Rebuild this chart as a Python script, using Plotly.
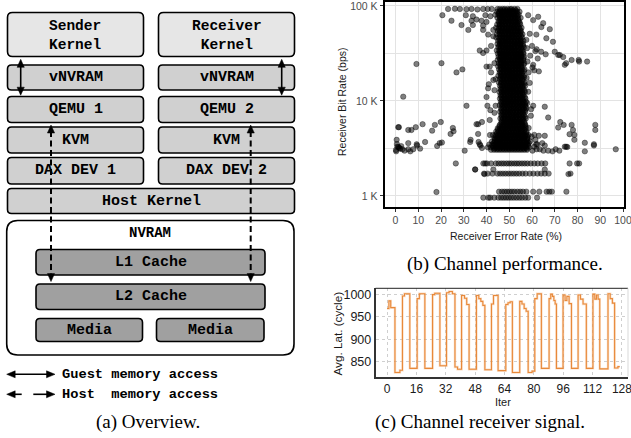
import plotly.graph_objects as go

W, H = 631, 438

# ---------------- (b) Channel performance: receiver error rate vs bit rate ----------------
# dense core, one row of error-rate readings per bit-rate band
blob_bps = [93000, 87000, 81000, 75000, 69000, 64000, 59000, 54500, 50500, 46500,
            43000, 39800, 36800, 34000, 31500, 29200, 27000, 25000, 23200, 21500,
            19900, 18400, 17000, 15700, 14500, 13400, 12400, 11500, 10600, 9800,
            9050, 8350, 7700, 7100, 6550, 6050, 5600, 5150, 4750, 4380,
            4050, 3750, 3480, 3250, 3060, 2200, 1720, 1110, 960]
blob_err = [
    [40.5, 42.3, 44.8, 45.9, 47.1, 48.0, 49.2, 50.3, 51.1, 52.4, 53.6],
    [44.6, 45.7, 46.9, 47.8, 48.9, 50.0, 51.2, 52.1, 53.3, 54.5],
    [43.9, 45.2, 46.4, 47.5, 48.6, 49.7, 50.6, 51.8, 52.9, 54.1],
    [44.8, 45.9, 47.0, 48.2, 49.3, 50.4, 51.5, 52.6, 53.7, 55.0],
    [45.3, 46.4, 47.4, 48.5, 49.6, 50.8, 51.9, 53.0, 54.2],
    [44.7, 45.8, 46.9, 48.0, 49.1, 50.2, 51.3, 52.4, 53.5, 54.8],
    [44.2, 45.4, 46.5, 47.6, 48.7, 49.8, 50.9, 52.0, 53.1, 54.3, 55.4],
    [45.0, 46.1, 47.2, 48.3, 49.4, 50.5, 51.6, 52.7, 53.8, 55.1],
    [44.6, 45.7, 46.8, 47.9, 49.0, 50.1, 51.2, 52.3, 53.4, 54.6, 55.8],
    [44.3, 45.5, 46.6, 47.7, 48.8, 49.9, 51.0, 52.1, 53.2, 54.4, 55.6],
    [45.1, 46.2, 47.3, 48.4, 49.5, 50.6, 51.7, 52.8, 53.9, 55.0, 56.2],
    [44.8, 45.9, 47.0, 48.1, 49.2, 50.3, 51.4, 52.5, 53.6, 54.8, 56.0],
    [45.2, 46.3, 47.4, 48.5, 49.6, 50.7, 51.8, 52.9, 54.0, 55.2, 56.4],
    [44.5, 45.6, 46.7, 47.8, 48.9, 50.0, 51.1, 52.2, 53.3, 54.5, 55.7],
    [45.0, 46.1, 47.2, 48.3, 49.4, 50.5, 51.6, 52.7, 53.8, 55.0, 56.3],
    [45.3, 46.4, 47.5, 48.6, 49.7, 50.8, 51.9, 53.0, 54.1, 55.3, 56.5],
    [44.9, 46.0, 47.1, 48.2, 49.3, 50.4, 51.5, 52.6, 53.7, 54.9, 56.1],
    [45.4, 46.5, 47.6, 48.7, 49.8, 50.9, 52.0, 53.1, 54.2, 55.4, 56.6],
    [45.1, 46.2, 47.3, 48.4, 49.5, 50.6, 51.7, 52.8, 53.9, 55.1],
    [45.5, 46.6, 47.7, 48.8, 49.9, 51.0, 52.1, 53.2, 54.3, 55.5, 56.7],
    [45.8, 46.9, 48.0, 49.1, 50.2, 51.3, 52.4, 53.5, 54.6, 55.8],
    [45.2, 46.3, 47.4, 48.5, 49.6, 50.7, 51.8, 52.9, 54.0, 55.2, 56.4],
    [45.9, 47.0, 48.1, 49.2, 50.3, 51.4, 52.5, 53.6, 54.7, 55.9],
    [45.4, 46.5, 47.6, 48.7, 49.8, 50.9, 52.0, 53.1, 54.2, 55.4, 56.6],
    [45.9, 47.0, 48.1, 49.2, 50.3, 51.4, 52.5, 53.6, 54.7, 55.9, 57.0],
    [46.1, 47.2, 48.3, 49.4, 50.5, 51.6, 52.7, 53.8, 54.9, 56.1],
    [45.7, 46.8, 47.9, 49.0, 50.1, 51.2, 52.3, 53.4, 54.5, 55.7, 56.9],
    [46.2, 47.3, 48.4, 49.5, 50.6, 51.7, 52.8, 53.9, 55.0, 56.2],
    [45.9, 47.0, 48.1, 49.2, 50.3, 51.4, 52.5, 53.6, 54.7, 55.9, 57.1],
    [46.3, 47.4, 48.5, 49.6, 50.7, 51.8, 52.9, 54.0, 55.1, 56.3, 57.4],
    [45.8, 46.9, 48.0, 49.1, 50.2, 51.3, 52.4, 53.5, 54.6, 55.8, 57.0],
    [46.4, 47.5, 48.6, 49.7, 50.8, 51.9, 53.0, 54.1, 55.2, 56.4, 57.5],
    [46.0, 47.1, 48.2, 49.3, 50.4, 51.5, 52.6, 53.7, 54.8, 56.0, 57.1],
    [46.5, 47.6, 48.7, 49.8, 50.9, 52.0, 53.1, 54.2, 55.3, 56.5],
    [46.1, 47.2, 48.3, 49.4, 50.5, 51.6, 52.7, 53.8, 54.9, 56.1, 57.3],
    [46.6, 47.7, 48.8, 49.9, 51.0, 52.1, 53.2, 54.3, 55.4, 56.6],
    [45.8, 46.9, 48.0, 49.1, 50.2, 51.3, 52.4, 53.5, 54.6, 55.8, 57.0],
    [44.9, 46.0, 47.1, 48.2, 49.3, 50.4, 51.5, 52.6, 53.7, 54.8, 56.0, 57.2],
    [44.2, 45.3, 46.4, 47.5, 48.6, 49.7, 50.8, 51.9, 53.0, 54.1, 55.2, 56.4, 57.6],
    [41.5, 42.8, 44.0, 45.1, 46.2, 47.3, 48.4, 49.5, 50.6, 51.7, 52.8, 53.9, 55.0, 56.1, 57.3, 58.4],
    [43.5, 44.6, 45.7, 46.8, 47.9, 49.0, 50.1, 51.2, 52.3, 53.4, 54.5, 55.6, 56.7, 57.9],
    [42.4, 43.6, 44.7, 45.8, 46.9, 48.0, 49.1, 50.2, 51.3, 52.4, 53.5, 54.6, 55.7, 56.8, 58.0, 59.1],
    [41.2, 42.5, 43.7, 44.8, 45.9, 47.0, 48.1, 49.2, 50.3, 51.4, 52.5, 53.6, 54.7, 55.8, 56.9, 58.1],
    [40.6, 41.9, 43.1, 44.3, 45.4, 46.5, 47.6, 48.7, 49.8, 50.9, 52.0, 53.1, 54.2, 55.3, 56.4, 57.5, 58.7],
    [42.0, 43.3, 44.5, 45.6, 46.7, 47.8, 48.9, 50.0, 51.1, 52.2, 53.3, 54.4, 55.5, 56.6, 57.8],
    [38.6, 40.2, 42.0, 44.1, 45.3, 46.5, 47.6, 48.8, 49.9, 51.0, 52.2, 53.3, 54.4, 55.6, 56.8,
     58.0, 59.4, 61.0, 62.5, 64.2, 65.8, 76.5, 80.7],
    [38.9, 40.5, 42.6, 44.8, 46.0, 47.2, 48.4, 49.6, 50.8, 52.0, 53.2, 54.4, 55.8, 57.2, 59.0,
     60.6, 62.4, 64.0, 65.6, 67.3, 76.9],
    [45.5, 46.8, 47.9, 49.0, 50.1, 51.2, 52.3, 53.6, 54.8, 56.0, 57.5, 60.5, 63.2, 66.4, 67.6,
     68.7, 75.1],
    [38.6, 40.8, 41.6, 43.4, 45.2, 46.4, 47.5, 48.6, 49.7, 50.8, 52.0, 53.2, 54.4, 55.6, 57.0,
     58.3, 62.2],
]
# the darkest part of the core, read between the rows above
core_bps = [90000, 84000, 78000, 72000, 66500, 61500, 56700, 52500, 48500, 44700,
            41400, 38300, 35400, 32700, 30300, 28100, 26000, 24100, 22300, 20700,
            19100, 17700, 16300, 15100, 13900, 12900, 11900, 11000, 10200, 9400,
            8700, 8000, 7400, 6800, 6300, 5800, 5370, 4950, 4560, 4210,
            3900, 3610, 3360, 3150]
core_err = [
    [46.2, 47.6, 48.9, 50.1, 51.5, 52.8],
    [45.4, 46.8, 48.1, 49.5, 50.8, 52.0, 53.4],
    [45.8, 47.1, 48.4, 49.8, 51.0, 52.3, 53.6],
    [46.0, 47.3, 48.7, 50.0, 51.3, 52.6, 54.0],
    [45.6, 46.9, 48.3, 49.6, 50.9, 52.2, 53.5, 54.6],
    [45.9, 47.2, 48.5, 49.9, 51.2, 52.5, 53.8],
    [45.5, 46.9, 48.2, 49.5, 50.8, 52.1, 53.4, 54.7],
    [45.8, 47.1, 48.4, 49.7, 51.0, 52.4, 53.7, 55.0],
    [46.1, 47.4, 48.7, 50.0, 51.3, 52.6, 53.9, 55.2],
    [45.7, 47.0, 48.3, 49.6, 51.0, 52.3, 53.6, 54.9],
    [46.0, 47.3, 48.6, 49.9, 51.2, 52.5, 53.8, 55.2],
    [45.6, 46.9, 48.2, 49.5, 50.9, 52.2, 53.5, 54.8, 56.0],
    [46.1, 47.4, 48.7, 50.0, 51.3, 52.6, 53.9, 55.3],
    [45.8, 47.1, 48.4, 49.7, 51.0, 52.3, 53.6, 54.9, 56.1],
    [46.2, 47.5, 48.8, 50.1, 51.4, 52.7, 54.0, 55.3],
    [45.9, 47.2, 48.5, 49.8, 51.1, 52.4, 53.7, 55.0, 56.2],
    [46.3, 47.6, 48.9, 50.2, 51.5, 52.8, 54.1, 55.4],
    [46.0, 47.3, 48.6, 49.9, 51.2, 52.5, 53.8, 55.1, 56.3],
    [46.4, 47.7, 49.0, 50.3, 51.6, 52.9, 54.2, 55.5],
    [46.1, 47.4, 48.7, 50.0, 51.3, 52.6, 53.9, 55.2, 56.4],
    [46.5, 47.8, 49.1, 50.4, 51.7, 53.0, 54.3, 55.6],
    [46.2, 47.5, 48.8, 50.1, 51.4, 52.7, 54.0, 55.3, 56.5],
    [46.6, 47.9, 49.2, 50.5, 51.8, 53.1, 54.4, 55.7],
    [46.3, 47.6, 48.9, 50.2, 51.5, 52.8, 54.1, 55.4, 56.6],
    [46.7, 48.0, 49.3, 50.6, 51.9, 53.2, 54.5, 55.8],
    [46.4, 47.7, 49.0, 50.3, 51.6, 52.9, 54.2, 55.5, 56.7],
    [46.8, 48.1, 49.4, 50.7, 52.0, 53.3, 54.6, 55.9],
    [46.5, 47.8, 49.1, 50.4, 51.7, 53.0, 54.3, 55.6, 56.8],
    [46.9, 48.2, 49.5, 50.8, 52.1, 53.4, 54.7, 56.0],
    [46.6, 47.9, 49.2, 50.5, 51.8, 53.1, 54.4, 55.7, 56.9],
    [46.9, 48.2, 49.5, 50.8, 52.1, 53.4, 54.7, 56.0, 57.2],
    [46.6, 47.9, 49.2, 50.5, 51.8, 53.1, 54.4, 55.7, 56.9],
    [46.9, 48.2, 49.5, 50.8, 52.1, 53.4, 54.7, 56.0],
    [46.7, 48.0, 49.3, 50.6, 51.9, 53.2, 54.5, 55.8, 57.0],
    [46.9, 48.2, 49.5, 50.8, 52.1, 53.4, 54.7, 56.0],
    [46.4, 47.7, 49.0, 50.3, 51.6, 52.9, 54.2, 55.5, 56.8],
    [45.6, 46.9, 48.2, 49.5, 50.8, 52.1, 53.4, 54.7, 56.0, 57.2],
    [45.0, 46.3, 47.6, 48.9, 50.2, 51.5, 52.8, 54.1, 55.4, 56.7],
    [44.6, 45.9, 47.2, 48.5, 49.8, 51.1, 52.4, 53.7, 55.0, 56.3, 57.5],
    [44.0, 45.3, 46.6, 47.9, 49.2, 50.5, 51.8, 53.1, 54.4, 55.7, 57.0, 58.0],
    [43.6, 44.9, 46.2, 47.5, 48.8, 50.1, 51.4, 52.7, 54.0, 55.3, 56.6, 57.8],
    [43.2, 44.5, 45.8, 47.1, 48.4, 49.7, 51.0, 52.3, 53.6, 54.9, 56.2, 57.5, 58.6],
    [42.8, 44.1, 45.4, 46.7, 48.0, 49.3, 50.6, 51.9, 53.2, 54.5, 55.8, 57.1, 58.3],
    [43.4, 44.7, 46.0, 47.3, 48.6, 49.9, 51.2, 52.5, 53.8, 55.1, 56.4, 57.7],
]
# scattered points (error rate %, bit rate bps), read one by one
out_err = [23.1, 26.1, 28.3, 31.2, 33.4, 36.0, 38.5, 20.6, 30.9, 34.0,
           39.5, 41.7, 24.6, 33.4, 35.6, 37.8, 40.0, 29.0, 34.0, 38.5,
           32.0, 38.5, 43.0, 40.7, 43.0, 42.0, 40.0, 38.5, 43.5, 40.0,
           42.0, 41.0, 43.5, 44.0, 37.0, 41.4, 43.0, 40.7, 40.0, 3.4,
           9.2, 20.2, 26.8, 29.4, 31.2, 40.4, 41.7, 41.4, 36.3, 38.0,
           58.3, 62.7, 64.9, 67.8, 64.1, 60.5, 59.0, 61.9, 66.3, 69.2,
           70.0, 72.2, 73.7, 74.4, 75.0, 77.4, 80.7, 80.5, 84.2, 71.5,
           66.0, 64.0, 62.0, 60.0, 62.5, 60.5, 58.5, 61.0, 63.0, 57.5,
           57.8, 59.2, 58.0, 60.2, 57.6, 59.0, 61.5, 58.3, 57.9, 59.6,
           0.5, 0.6, 0.8, 1.3, 1.6, 2.0, 1.2, 1.5, 0.2, 0.3,
           2.5, 3.0, 4.0, 5.6, 7.0, 5.6, 5.6, 6.5, 7.8, 8.9,
           9.3, 9.5, 10.8, 11.9, 16.1, 17.3, 18.3, 19.4, 19.9, 20.4,
           24.2, 25.2, 25.5, 26.5, 13.0, 30.4, 32.8, 33.0, 35.6, 36.3,
           36.5, 37.0, 37.3, 38.0, 35.0, 39.4, 39.1, 44.0, 43.5, 18.0,
           60.5, 59.5, 58.5, 61.0, 62.3, 65.6, 67.1, 71.5, 72.4, 73.9,
           77.4, 78.0, 76.5, 78.6, 78.6, 87.8, 87.8, 83.2, 87.2, 87.2,
           83.2, 96.8, 74.4, 75.0, 75.5, 70.4, 72.0, 65.6, 65.6, 67.1,
           63.4, 65.0, 61.5, 69.0, 79.8, 76.0, 35.0, 43.0, 65.6, 61.0,
           63.0, 64.5, 62.0, 60.2, 59.8, 61.8]
out_bps = [93000, 93500, 93000, 92500, 93000, 92000, 93000, 80000, 80000, 78000,
           80000, 78000, 70000, 70000, 72000, 70000, 68000, 63000, 63000, 62000,
           56000, 56000, 56000, 50000, 48000, 38000, 34000, 32000, 25000, 23000,
           20000, 15000, 13000, 17000, 34000, 23000, 16600, 13600, 11000, 11100,
           24500, 25000, 20000, 21500, 8900, 8900, 8000, 6300, 5700, 6000,
           80000, 77000, 66000, 57000, 60000, 71000, 51000, 50000, 45700, 42000,
           33000, 30500, 29000, 24000, 25000, 27000, 26000, 27000, 26000, 30500,
           31000, 33000, 35000, 38000, 28000, 24000, 20000, 21000, 20500, 44000,
           36000, 30000, 26000, 22500, 17500, 15500, 33500, 12500, 9500, 8200,
           3900, 3520, 3300, 3280, 3200, 3150, 5300, 5300, 3050, 2950,
           3350, 3100, 3000, 4950, 4950, 3600, 3100, 2950, 3100, 5300,
           3500, 3400, 3150, 5700, 4870, 5600, 3360, 3600, 6000, 3650,
           4500, 5200, 4800, 2200, 3700, 3000, 3700, 3900, 5700, 4500,
           3700, 3500, 3400, 3200, 1900, 2200, 1700, 8900, 7500, 1100,
           8900, 7000, 5200, 4400, 3500, 8700, 6700, 5250, 6000, 5600,
           5600, 4950, 4470, 4400, 3900, 5600, 4950, 3630, 3500, 3400,
           2950, 3100, 3300, 3300, 3280, 3100, 3000, 4300, 3400, 3000,
           3100, 3000, 3900, 2950, 2200, 1700, 1900, 1900, 1900, 3300,
           4300, 3600, 3100, 3000, 4200, 3500]

err_ticks = [0, 10, 20, 30, 40, 50, 60, 70, 80, 90, 100]
bps_ticks = [1000, 10000, 100000]
bps_ticktext = ["1 K", "10 K", "100 K"]
bps_minor = [3162.3, 31623]

# ---------------- (c) Channel receiver signal: step breakpoints ----------------
sig_iter = [0, 1.0, 2.0, 4.3, 7.0,
            8.4, 9.5, 12.4,
            16.4, 17.6, 20.6,
            24.8, 26.0, 28.8,
            32.4, 33.8, 35.6, 37.0, 38.4,
            40.6, 42.2, 43.4, 44.7,
            48.7, 50.0, 51.1, 52.2, 53.3,
            56.9, 58.0, 60.5,
            64.7, 65.9, 67.1, 68.3,
            72.3, 73.5, 74.7, 75.8, 76.9, 79.0,
            80.5, 81.8, 84.1,
            88.3, 89.2, 90.1, 90.9, 91.6, 92.3,
            95.9, 97.0, 98.0, 99.2, 100.5,
            104.1, 105.4, 106.8, 108.6,
            112.2, 113.2, 114.1, 115.0, 115.9,
            120.4, 121.6, 122.8, 124.0, 125.8, 126.8]
sig_lat = [968, 985, 970, 826, 831,
           996, 1001, 835,
           990, 1001, 835,
           999, 1002, 841,
           1003, 1006, 1001, 838, 833,
           997, 991, 977, 833,
           997, 990, 984, 975, 832,
           978, 997, 830,
           977, 981, 983, 826,
           984, 978, 968, 962, 826, 829,
           990, 1001, 835,
           990, 1000, 995, 986, 978, 835,
           998, 986, 995, 979, 835,
           998, 989, 978, 835,
           1000, 989, 998, 989, 834,
           1001, 990, 980, 836, 839, 839]
iter_ticks = [0, 16, 32, 48, 64, 80, 96, 112, 128]
lat_ticks = [850, 900, 950, 1000]

# ---------------- helpers (pixel -> paper) ----------------
def X(px):
    return px / W

def Y(py):
    return 1 - py / H

err_rate, bit_rate = [], []
for lvl, row in list(zip(blob_bps, blob_err)) + list(zip(core_bps, core_err)):
    for e in row:
        err_rate.append(e)
        bit_rate.append(lvl)
err_rate += out_err
bit_rate += out_bps

fig = go.Figure()
fig.add_trace(go.Scatter(
    x=err_rate, y=bit_rate, mode="markers", xaxis="x", yaxis="y",
    marker=dict(size=5.4, color="rgba(0,0,0,0.5)",
                line=dict(color="rgba(0,0,0,0.5)", width=0.7)),
    showlegend=False, hoverinfo="skip"))
fig.add_trace(go.Scatter(
    x=sig_iter, y=sig_lat, mode="lines", xaxis="x2", yaxis="y2",
    line=dict(shape="hv", color="rgba(242,165,100,0.38)", width=2.4),
    showlegend=False, hoverinfo="skip"))
fig.add_trace(go.Scatter(
    x=sig_iter, y=sig_lat, mode="lines", xaxis="x2", yaxis="y2",
    line=dict(shape="hv", color="#e8893a", width=1.1),
    showlegend=False, hoverinfo="skip"))

# ---------------- diagram (a) ----------------
shapes = []
annotations = []

def rrect(x0, y0, x1, y1, r, fill, lw=1.6):
    p = (f"M {X(x0+r)},{Y(y0)} L {X(x1-r)},{Y(y0)} Q {X(x1)},{Y(y0)} {X(x1)},{Y(y0+r)} "
         f"L {X(x1)},{Y(y1-r)} Q {X(x1)},{Y(y1)} {X(x1-r)},{Y(y1)} "
         f"L {X(x0+r)},{Y(y1)} Q {X(x0)},{Y(y1)} {X(x0)},{Y(y1-r)} "
         f"L {X(x0)},{Y(y0+r)} Q {X(x0)},{Y(y0)} {X(x0+r)},{Y(y0)} Z")
    shapes.append(dict(type="path", path=p, xref="paper", yref="paper",
                       fillcolor=fill, line=dict(color="black", width=lw), layer="above"))

def seg(x0, y0, x1, y1, width=1.6, dash=None):
    ln = dict(color="black", width=width)
    if dash:
        ln["dash"] = dash
    shapes.append(dict(type="line", x0=X(x0), y0=Y(y0), x1=X(x1), y1=Y(y1),
                       xref="paper", yref="paper", line=ln, layer="above"))

def tri(tx, ty, dx, dy, L=8.0, hw=3.6):
    bx, by = tx - L * dx, ty - L * dy
    px, py = -dy, dx
    p = (f"M {X(tx)},{Y(ty)} L {X(bx+hw*px)},{Y(by+hw*py)} "
         f"L {X(bx-hw*px)},{Y(by-hw*py)} Z")
    shapes.append(dict(type="path", path=p, xref="paper", yref="paper",
                       fillcolor="black", line=dict(color="black", width=0.5), layer="above"))

def label(txt, px, py, size=15):
    annotations.append(dict(text=txt, x=X(px), y=Y(py), xref="paper", yref="paper",
                            showarrow=False, xanchor="center", yanchor="middle",
                            font=dict(family="Liberation Mono", size=size, color="black",
                                      weight="bold")))

LIGHT, MID, DARK = "#e6e6e6", "#d0d0d0", "#a0a0a0"
cols = [(7.5, 143.5), (158.5, 294.5)]
for i, (a, b) in enumerate(cols):
    c = (a + b) / 2
    rrect(a, 12.5, b, 56.5, 5, LIGHT)
    label(["Sender", "Receiver"][i] + "<br>Kernel", c, 35.4, 14.5)
    rrect(a, 65, b, 90, 4, MID)
    label("vNVRAM", c, 77.6)
    rrect(a, 96.5, b, 122.5, 4, MID)
    label(f"QEMU {i+1}", c, 109.6)
    rrect(a, 127, b, 153, 4, MID)
    label("KVM", c, 140.2)
    rrect(a, 157.5, b, 184, 4, MID)
    label(f"DAX DEV {i+1}", c, 170.8)
rrect(7.5, 188.5, 294.5, 213.5, 4, MID)
label("Host Kernel", 151, 201.2)
rrect(6.7, 220.5, 294, 355, 11, "white")
label("NVRAM", 150, 232.7, 14)
rrect(36, 249.5, 265, 275, 4, DARK)
label("L1 Cache", 150.5, 262.3)
rrect(36, 284, 265, 309.5, 4, DARK)
label("L2 Cache", 150.5, 296.9)
rrect(36, 318.5, 142.5, 341.5, 4, DARK)
label("Media", 89.3, 330.2)
rrect(156.5, 318.5, 264, 341.5, 4, DARK)
label("Media", 210.2, 330.2)

# guest (solid) arrows
for gx in (20.7, 281.7):
    seg(gx, 66, gx, 88.5, 1.6)
    tri(gx, 59.3, 0, -1)
    tri(gx, 95.2, 0, 1)
# host (dashed) arrows
for hx in (51.0, 250.7):
    seg(hx, 131, hx, 275, 2.0, "6px,3.5px")
    tri(hx, 125.0, 0, -1)
    tri(hx, 281.6, 0, 1)

# legend of the diagram
seg(14, 374.3, 48, 374.3, 1.6)
tri(6.7, 374.3, -1, 0, 8.5, 3.5)
tri(55.0, 374.3, 1, 0, 8.5, 3.5)
seg(14, 394.3, 21.7, 394.3, 1.6)
seg(33.3, 394.3, 47, 394.3, 1.6)
tri(6.7, 394.3, -1, 0, 8.5, 3.5)
tri(55.0, 394.3, 1, 0, 8.5, 3.5)
for txt, py in (("Guest memory access", 374.3), ("Host&nbsp; memory access", 394.3)):
    annotations.append(dict(text=txt, x=X(60), y=Y(py), xref="paper", yref="paper",
                            showarrow=False, xanchor="left", yanchor="middle",
                            font=dict(family="Liberation Mono", size=13.7, color="black",
                                      weight="bold")))

# (c) top frame line
shapes.append(dict(type="line", xref="x2 domain", yref="y2 domain", x0=0, x1=1, y0=1, y1=1,
                   line=dict(color="#222", width=1), layer="above"))
shapes.append(dict(type="line", xref="x2 domain", yref="y2 domain", x0=1, x1=1, y0=0, y1=1,
                   line=dict(color="#d9d9d9", width=1), layer="above"))

# titles and captions
def text(txt, px, py, size, family="Liberation Sans", angle=0, color="#1a1a1a"):
    annotations.append(dict(text=txt, x=X(px), y=Y(py), xref="paper", yref="paper",
                            showarrow=False, xanchor="center", yanchor="middle",
                            textangle=angle, font=dict(family=family, size=size, color=color)))

text("Receiver Error Rate (%)", 505.5, 236.2, 10.5)
text("Receiver Bit Rate (bps)", 342, 102, 10.5, angle=-90)
text("Avg. Lat. (cycle)", 337, 333.5, 11.7, angle=-90)
text("Iter", 502.7, 402, 11)
text("(a) Overview.", 148, 421.5, 19, "Liberation Serif", color="black")
text("(b) Channel performance.", 505, 263.8, 19, "Liberation Serif", color="black")
text("(c) Channel receiver signal.", 480, 421.5, 19, "Liberation Serif", color="black")

fig.update_layout(
    width=W, height=H, margin=dict(l=0, r=0, t=0, b=0),
    paper_bgcolor="white", plot_bgcolor="white", showlegend=False,
    shapes=shapes, annotations=annotations,
    xaxis=dict(domain=[X(384.7), X(623.5)], range=[-4.75, 100.2], anchor="y",
               tickmode="array", tickvals=err_ticks, ticks="outside", ticklen=3,
               tickcolor="#333", tickwidth=1, showline=True, linecolor="black",
               linewidth=2, mirror=True, showgrid=True, gridcolor="#e3e3e3",
               gridwidth=1, zeroline=False, automargin=False, ticklabeloverflow="allow",
               tickfont=dict(family="Liberation Sans", size=10.5, color="#4d4d4d")),
    yaxis=dict(domain=[Y(206.7), Y(2)], type="log", range=[2.887, 5.042], anchor="x",
               tickmode="array", tickvals=bps_ticks, ticktext=bps_ticktext,
               ticks="outside", ticklen=3, tickcolor="#333", tickwidth=1,
               showline=True, linecolor="black", linewidth=2, mirror=True,
               showgrid=True, gridcolor="#e3e3e3", gridwidth=1, zeroline=False,
               automargin=False, ticklabeloverflow="allow",
               minor=dict(tickmode="array", tickvals=bps_minor, showgrid=True,
                          gridcolor="#e3e3e3", gridwidth=1, ticks=""),
               tickfont=dict(family="Liberation Sans", size=10.5, color="#4d4d4d")),
    xaxis2=dict(domain=[X(375.5), X(628)], range=[-6.3, 131.3], anchor="y2",
                tickmode="array", tickvals=iter_ticks, ticks="", showline=True,
                linecolor="#333", linewidth=1.5, showgrid=True, gridcolor="#cfcfcf",
                griddash="dot", gridwidth=1, zeroline=False, automargin=False,
                ticklabeloverflow="allow",
                tickfont=dict(family="Liberation Sans", size=12, color="#1a1a1a")),
    yaxis2=dict(domain=[Y(376.5), Y(288.3)], range=[817, 1013], anchor="x2",
                tickmode="array", tickvals=lat_ticks, ticks="", showline=True,
                linecolor="#333", linewidth=1.5, showgrid=True, gridcolor="#cfcfcf",
                griddash="dot", gridwidth=1, zeroline=False, automargin=False,
                ticklabeloverflow="allow",
                tickfont=dict(family="Liberation Sans", size=12.5, color="#1a1a1a")),
)

fig.write_html("out.html", config={"displayModeBar": False},
               post_script="document.body.style.margin='0';document.body.style.padding='0';")
